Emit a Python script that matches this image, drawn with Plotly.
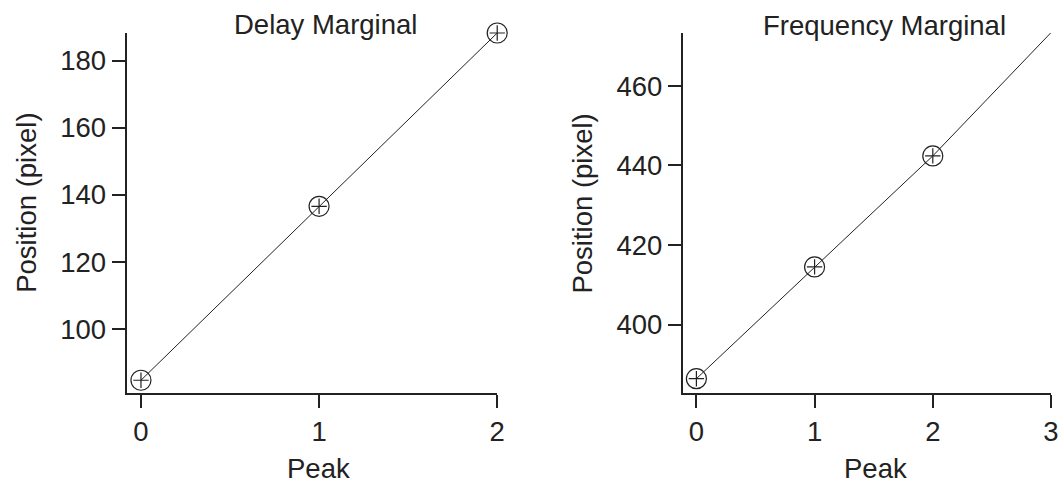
import plotly.graph_objects as go

# Data
delay_peaks = [0, 1, 2]
delay_pos = [84.8, 136.6, 188.2]
freq_peaks = [0, 1, 2, 3]
freq_pos = [386.4, 414.5, 442.4, 473.4]

delay_yticks = [100, 120, 140, 160, 180]
freq_yticks = [400, 420, 440, 460]

FONT = "Liberation Sans, Arial, Helvetica, sans-serif"
INK = "#222222"
FS = 27.5

fig = go.Figure()

for xs, ys, xa, ya in [(delay_peaks, delay_pos, "x", "y"), (freq_peaks, freq_pos, "x2", "y2")]:
    fig.add_trace(go.Scatter(
        x=xs, y=ys, xaxis=xa, yaxis=ya, mode="lines+markers",
        line=dict(color=INK, width=1),
        marker=dict(symbol="circle-open", size=20, color=INK, line=dict(width=1.2, color=INK)),
        cliponaxis=False, showlegend=False))
    fig.add_trace(go.Scatter(
        x=xs, y=ys, xaxis=xa, yaxis=ya, mode="markers",
        marker=dict(symbol="cross-thin-open", size=11, color=INK, line=dict(width=1.2, color=INK)),
        cliponaxis=False, showlegend=False))

ydom = [92/485, 452/485]
axis_common = dict(showline=True, linecolor=INK, linewidth=2, ticks="outside", ticklen=13,
                   tickwidth=2, tickcolor=INK, showgrid=False, zeroline=False,
                   tickfont=dict(family=FONT, size=FS, color=INK))

fig.update_layout(
    width=1059, height=485,
    margin=dict(l=0, r=0, t=0, b=0),
    paper_bgcolor="white", plot_bgcolor="white",
    font=dict(family=FONT, size=FS, color=INK),
    xaxis=dict(domain=[127.5/1059, 501/1059], range=[-0.081, 2], tickvals=delay_peaks,
               anchor="y", **axis_common),
    yaxis=dict(domain=ydom, range=[81, 188.2], tickvals=delay_yticks, anchor="x",
               **axis_common),
    xaxis2=dict(domain=[688/1059, 1.0], range=[-0.115, 3], tickvals=freq_peaks,
                anchor="y2", **axis_common),
    yaxis2=dict(domain=ydom, range=[382.8, 473.3], tickvals=freq_yticks, anchor="x2",
                **axis_common),
)

ann = [
    dict(text="Delay Marginal", x=328/1059, y=1 - 24/485),
    dict(text="Frequency Marginal", x=891/1059, y=1 - 25/485),
    dict(text="Peak", x=321/1059, y=1 - 468/485),
    dict(text="Peak", x=882/1059, y=1 - 468/485),
    dict(text="Position (pixel)", x=26/1059, y=1 - 203/485, textangle=-90),
    dict(text="Position (pixel)", x=586/1059, y=1 - 204/485, textangle=-90),
]
for a in ann:
    fig.add_annotation(xref="paper", yref="paper", showarrow=False,
                       xanchor="center", yanchor="middle",
                       font=dict(family=FONT, size=FS, color=INK), **a)

fig.write_html("out.html",
               config={"displayModeBar": False, "responsive": False},
               post_script="document.body.style.margin='0';document.body.style.overflow='hidden';")
